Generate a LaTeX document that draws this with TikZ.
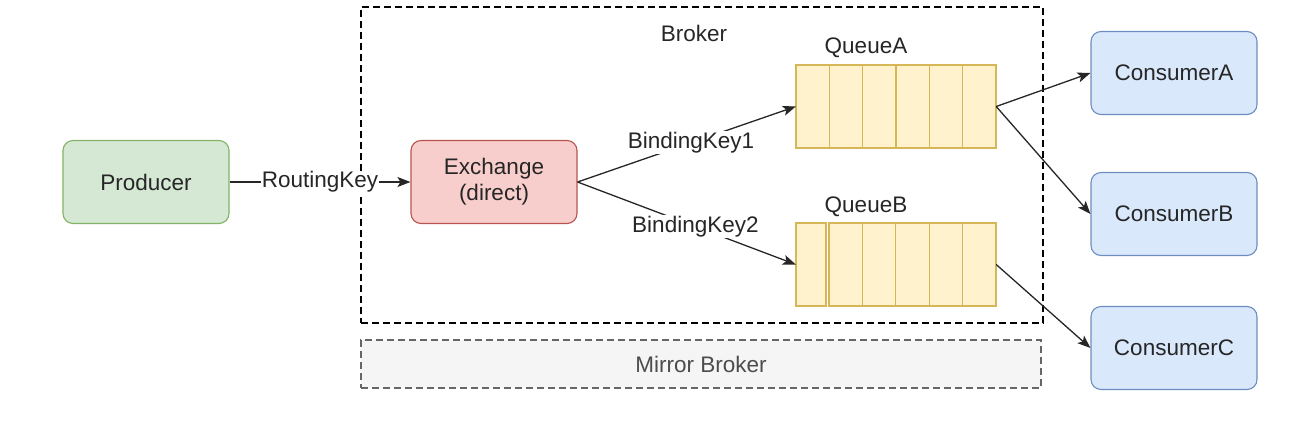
\documentclass[tikz,border=0pt]{standalone}
\usepackage{fontspec}
\setmainfont{Liberation Sans}
\usetikzlibrary{arrows.meta, positioning}
\definecolor{prodfill}{HTML}{D5E8D4}
\definecolor{prodline}{HTML}{82B366}
\definecolor{exfill}{HTML}{F8CECC}
\definecolor{exline}{HTML}{B85450}
\definecolor{qfill}{HTML}{FFF2CC}
\definecolor{qline}{HTML}{D6B656}
\definecolor{consfill}{HTML}{DAE8FC}
\definecolor{consline}{HTML}{6C8EBF}
\definecolor{mirfill}{HTML}{F5F5F5}
\definecolor{mirline}{HTML}{666666}

\begin{document}
\begin{tikzpicture}[x=1pt, y=-1pt,
      every node/.style={font=\fontsize{22.5}{26}\selectfont, text=black!85},
      box/.style={rounded corners=10pt, line width=1.1pt,
                  minimum width=166pt, minimum height=83pt, align=center},
      prod/.style={box, draw=prodline, fill=prodfill},
      exch/.style={box, draw=exline, fill=exfill},
      cons/.style={box, draw=consline, fill=consfill},
      qbox/.style={minimum width=200pt, minimum height=83pt, inner sep=0pt},
      cell/.style={draw=qline, fill=qfill, line width=1.1pt},
      brokerbox/.style={draw=black, line width=1.2pt, dash pattern=on 7pt off 4pt,
                        minimum width=682pt, minimum height=316pt, inner sep=0pt},
      mirror/.style={draw=mirline, fill=mirfill, line width=1.1pt,
                     dash pattern=on 7pt off 4pt, minimum width=680pt,
                     minimum height=48pt, inner sep=0pt, text=black!70},
      lbl/.style={fill=white, inner sep=1pt},
      ar/.style={-{Stealth[length=13pt, width=10pt, inset=3pt]}, line width=1.3pt, black!85}
    ]
      \useasboundingbox (0,0) rectangle (1314,421);

      % broker frames
      \node[brokerbox] (broker) at (702,165) {};
      \node (brokerlbl) at (694,33) {Broker};
      \node[mirror] (mirror) at (701,364) {Mirror Broker};

      % producer and exchange
      \node[prod] (prod) at (146,182) {Producer};
      \node[exch] (exch) at (494,182) {Exchange\\(direct)};
      \draw[ar] (prod) -- node[lbl] {RoutingKey} (exch);

      % queues
      \node[qbox] (qa) at (896,106.5) {};
      \foreach \i in {0,...,5}
        \draw[cell] (796+\i*33.33,65) rectangle ++(33.33,83);
      \node (qalbl) at (866,48) {QueueA};

      \node[qbox] (qb) at (896,264.5) {};
      \draw[cell] (796,223) rectangle (826,306);
      \foreach \i in {0,...,4}
        \draw[cell] (829+\i*33.4,223) rectangle ++(33.4,83);
      \node (qblbl) at (866,207) {QueueB};

      \draw[ar] (exch.east) -- node[lbl, pos=0.52] {BindingKey1} (qa.west);
      \draw[ar] (exch.east) -- node[lbl, pos=0.54] {BindingKey2} (qb.west);

      % consumers
      \node[cons] (ca) at (1174,73) {ConsumerA};
      \node[cons] (cb) at (1174,214) {ConsumerB};
      \node[cons] (cc) at (1174,348) {ConsumerC};
      \draw[ar] (qa.east) -- (ca.west);
      \draw[ar] (qa.east) -- (cb.west);
      \draw[ar] (qb.east) -- (cc.west);
\end{tikzpicture}
\end{document}
